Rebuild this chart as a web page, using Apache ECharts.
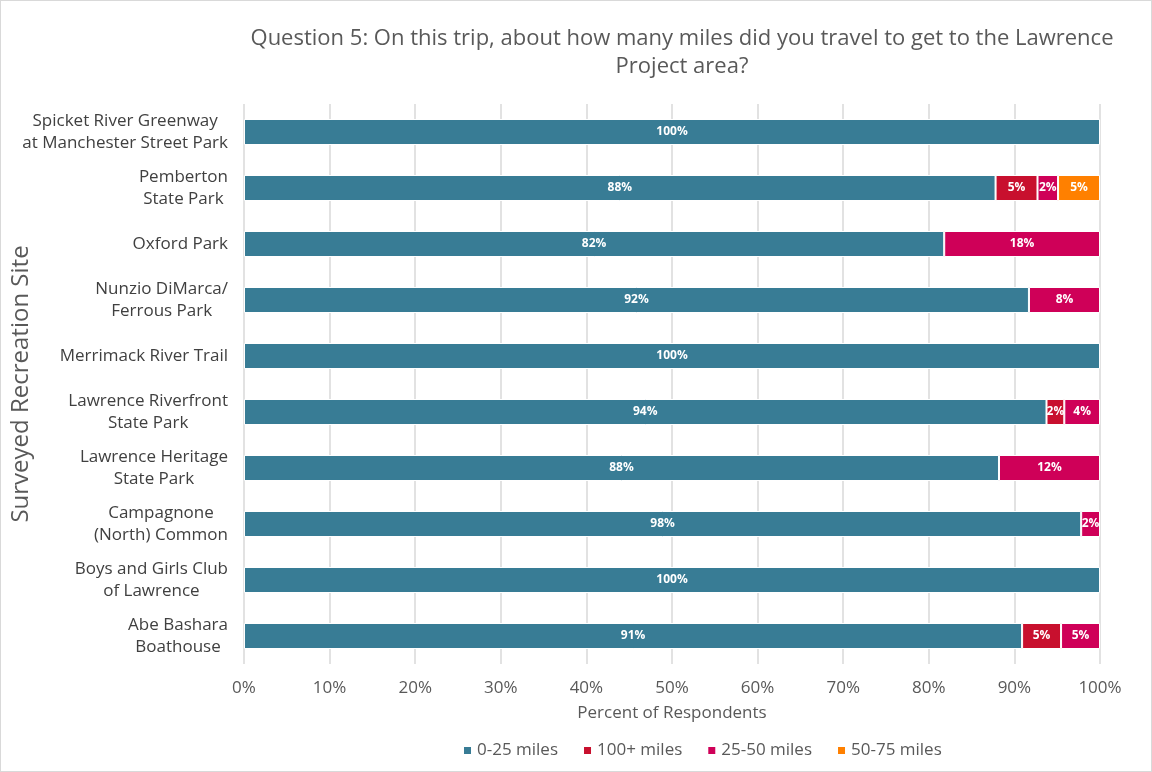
<!DOCTYPE html>
<html><head><meta charset="utf-8">
<script src="https://cdn.jsdelivr.net/npm/echarts@6/dist/echarts.min.js"></script>
<style>html,body{margin:0;padding:0;background:#fff}#c{width:1150px;height:770px;border:1px solid #d9d9d9}</style>
</head><body><div id="c"></div>
<script>
const categories = [
  "Spicket River Greenway\nat Manchester Street Park",
  "Pemberton\nState Park",
  "Oxford Park",
  "Nunzio DiMarca/\nFerrous Park",
  "Merrimack River Trail",
  "Lawrence Riverfront\nState Park",
  "Lawrence Heritage\nState Park",
  "Campagnone\n(North) Common",
  "Boys and Girls Club\nof Lawrence",
  "Abe Bashara\nBoathouse"
];
const miles0to25  = [100, 87.8, 81.8, 91.7, 100, 93.75, 88.2, 97.8, 100, 90.9];
const miles100plus = [0, 4.9, 0, 0, 0, 2.08, 0, 0, 0, 4.55];
const miles25to50 = [0, 2.4, 18.2, 8.3, 0, 4.17, 11.8, 2.2, 0, 4.55];
const miles50to75 = [0, 4.9, 0, 0, 0, 0, 0, 0, 0, 0];
const xTicks = [0,10,20,30,40,50,60,70,80,90,100];

const FONT = "Open Sans";
const cats = categories.slice().reverse();
function rev(a){return a.slice().reverse().map(v => v === 0 ? null : v);}
function mk(name, data, color){
  return {
    name, type:'bar', stack:'s', data: rev(data), barWidth: 26,
    itemStyle:{color, borderColor:'#fff', borderWidth:1},
    label:{show:true, position:'inside', color:'#fff', fontWeight:'bold', fontSize:12, fontFamily:FONT,
      formatter: p => Math.round(p.value) + '%'}
  };
}
const chart = echarts.init(document.getElementById('c'));
chart.setOption({
  animation:false,
  title:{text:"Question 5: On this trip, about how many miles did you travel to get to the Lawrence\nProject area?",
    left:676, top:19, textAlign:'center',
    textStyle:{fontFamily:FONT, fontSize:22, fontWeight:'normal', color:'#595959', lineHeight:28}},
  legend:{bottom:7, left:456, itemWidth:9, itemHeight:9, itemGap:24, icon:'rect',
    textStyle:{fontFamily:FONT, fontSize:17, color:'#595959'}},
  grid:{left:243, right:51, top:103, bottom:107, outerBoundsMode:'none', containLabel:false},
  xAxis:{type:'value', min:0, max:100, interval:10,
    name:'Percent of Respondents', nameLocation:'middle', nameGap:41,
    nameTextStyle:{fontFamily:FONT, fontSize:17, color:'#595959'},
    axisLabel:{formatter: v => xTicks.includes(v) ? v + '%' : '', fontFamily:FONT, fontSize:17, color:'#595959', margin:16},
    axisLine:{show:false}, axisTick:{show:false},
    splitLine:{lineStyle:{color:'#d9d9d9', width:1.5}}},
  yAxis:{type:'category', data:cats,
    name:'Surveyed Recreation Site', nameLocation:'middle', nameGap:211, nameRotate:90, nameMoveOverlap:false,
    nameTextStyle:{fontFamily:FONT, fontSize:24, color:'#595959'},
    axisLine:{show:false}, axisTick:{show:false},
    axisLabel:{align:'right', margin:16, fontFamily:FONT, fontSize:17, color:'#404040', lineHeight:22,
      formatter: v => v.split('\n').map(s => '{c|' + s + '}').join('\n'),
      rich:{c:{align:'center', fontFamily:FONT, fontSize:17, color:'#404040', lineHeight:22}}}},
  series:[
    mk('0-25 miles', miles0to25, '#387C95'),
    mk('100+ miles', miles100plus, '#C8102E'),
    mk('25-50 miles', miles25to50, '#CF0058'),
    mk('50-75 miles', miles50to75, '#FF8000')
  ]
});
</script></body></html>
